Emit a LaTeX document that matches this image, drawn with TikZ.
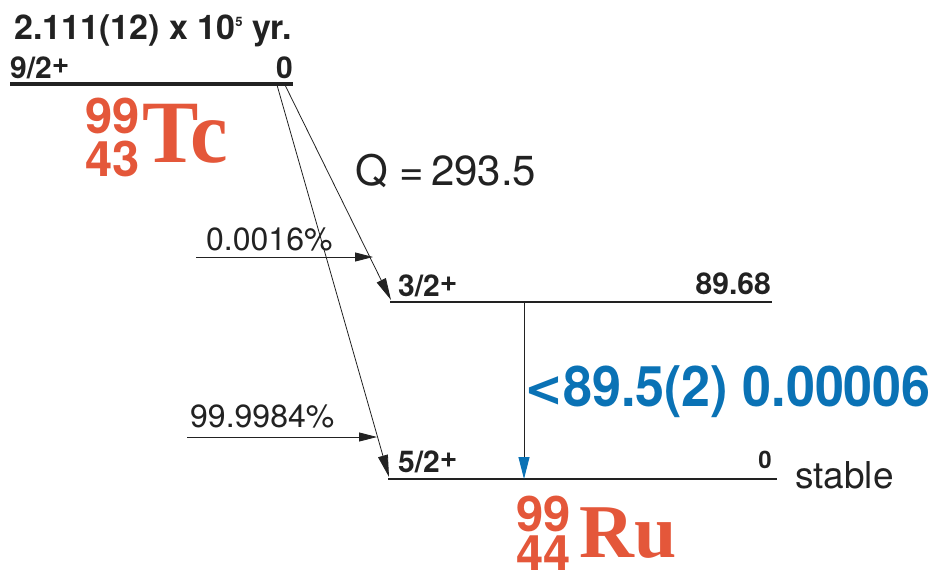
\documentclass[tikz,border=0pt]{standalone}
\usepackage{fontspec}
\setmainfont{TeX Gyre Heros}
\newfontfamily\serifbf{Liberation Serif}
\newfontfamily\chevfont{DejaVu Sans}
\usetikzlibrary{arrows.meta}
\definecolor{nucred}{HTML}{E4573A}
\definecolor{gblue}{HTML}{0A72B5}
\definecolor{ink}{HTML}{222222}
\tikzset{
  lvl/.style={draw=ink, line width=1.6pt},
  toplvl/.style={draw=ink, line width=4.5pt},
  lbl/.style={inner sep=0pt, text=ink, font=\bfseries\fontsize{30}{30}\selectfont},
  beta/.style={draw=ink, line width=0.8pt, -{Triangle[length=22pt,width=10pt]}},
  feed/.style={draw=ink, line width=0.8pt, -{Triangle[length=18pt,width=9pt]}},
  pct/.style={inner sep=0pt, text=ink, font=\fontsize{32}{32}\selectfont},
  gam/.style={draw=ink, line width=1pt, -{Triangle[length=22pt,width=11pt,color=gblue]}},
  znum/.style={inner sep=0pt, text=nucred, text height=34pt, text depth=0pt, font=\bfseries\fontsize{49}{49}\selectfont},
  elem/.style={inner sep=0pt, text=nucred},
}
\newcommand{\plussup}{\raisebox{5pt}{+}}
\begin{document}
\begin{tikzpicture}[x=1pt,y=-1pt]
\useasboundingbox (0,0) rectangle (932,573);
% half-life
\node[inner sep=0pt, anchor=base west, text=ink, font=\bfseries\fontsize{34}{34}\selectfont] (hl) at (14,39) {2.111(12) x 10\raisebox{13pt}{\fontsize{13}{13}\selectfont 5} yr.};
% parent level
\coordinate (pL) at (10,84);
\coordinate (pR) at (293,84);
\draw[toplvl] (pL) -- (pR);
\node[lbl, anchor=base west] (pj) at (10,78) {9/2\plussup};
\node[lbl, anchor=base east] (pe) at (293,78) {0};
% Tc
\node[znum, anchor=base west] (tcA) at (85,133) {99};
\node[znum, anchor=base west] (tcZ) at (85,176) {43};
\node[elem, anchor=base west] (tc) at (142,162) {\scalebox{0.95}[1]{\serifbf\bfseries\fontsize{89}{89}\selectfont Tc}};
% Q
\node[inner sep=0pt, anchor=base west, text=ink, font=\fontsize{42}{42}\selectfont] (q) at (355,185) {Q =\,293.5};
% level 3/2+
\coordinate (aL) at (390,302);
\coordinate (aR) at (772,302);
\draw[lvl] (aL) -- (aR);
\node[lbl, anchor=base west] (aj) at (398,296) {3/2\plussup};
\node[lbl, anchor=base east] (ae) at (771,294) {89.68};
% level 5/2+
\coordinate (bL) at (388,479);
\coordinate (bR) at (777,479);
\draw[lvl] (bL) -- (bR);
\node[lbl, anchor=base west] (bj) at (398,472) {5/2\plussup};
\node[inner sep=0pt, anchor=base east, text=ink, font=\bfseries\fontsize{24}{24}\selectfont] (be) at (772,468) {0};
\node[inner sep=0pt, anchor=base west, text=ink, font=\fontsize{37}{37}\selectfont] (st) at (795,488) {stable};
% beta arrows
\coordinate (s1) at (285,85);
\coordinate (t1) at (391,300);
\coordinate (s2) at (277,85);
\coordinate (t2) at (389,477);
\draw[beta] (s1) -- (t1);
\draw[beta] (s2) -- (t2);
% feeding
\coordinate (f1a) at (196,257);
\coordinate (f1b) at (373,257);
\draw[feed] (f1a) -- (f1b);
\node[pct, anchor=base west] (p1) at (206,250) {0.0016\%};
\coordinate (f2a) at (187,437);
\coordinate (f2b) at (377,437);
\draw[feed] (f2a) -- (f2b);
\node[pct, anchor=base west] (p2) at (190,427) {99.9984\%};
% gamma
\coordinate (g1) at (524,302);
\coordinate (g2) at (524,479);
\draw[gam] (g1) -- (g2);
\node[inner sep=0pt, anchor=base west, text=gblue] (gl) at (524,406) {\scalebox{0.93}[1]{\bfseries\fontsize{56}{56}\selectfont{\chevfont\bfseries\fontsize{50}{50}\selectfont <}89.5(2) 0.00006}};
% Ru
\node[znum, anchor=base west] (ruA) at (516,531) {99};
\node[znum, anchor=base west] (ruZ) at (516,570) {44};
\node[elem, anchor=base west] (ru) at (579,557) {\serifbf\bfseries\fontsize{76}{76}\selectfont Ru};
\end{tikzpicture}
\end{document}
